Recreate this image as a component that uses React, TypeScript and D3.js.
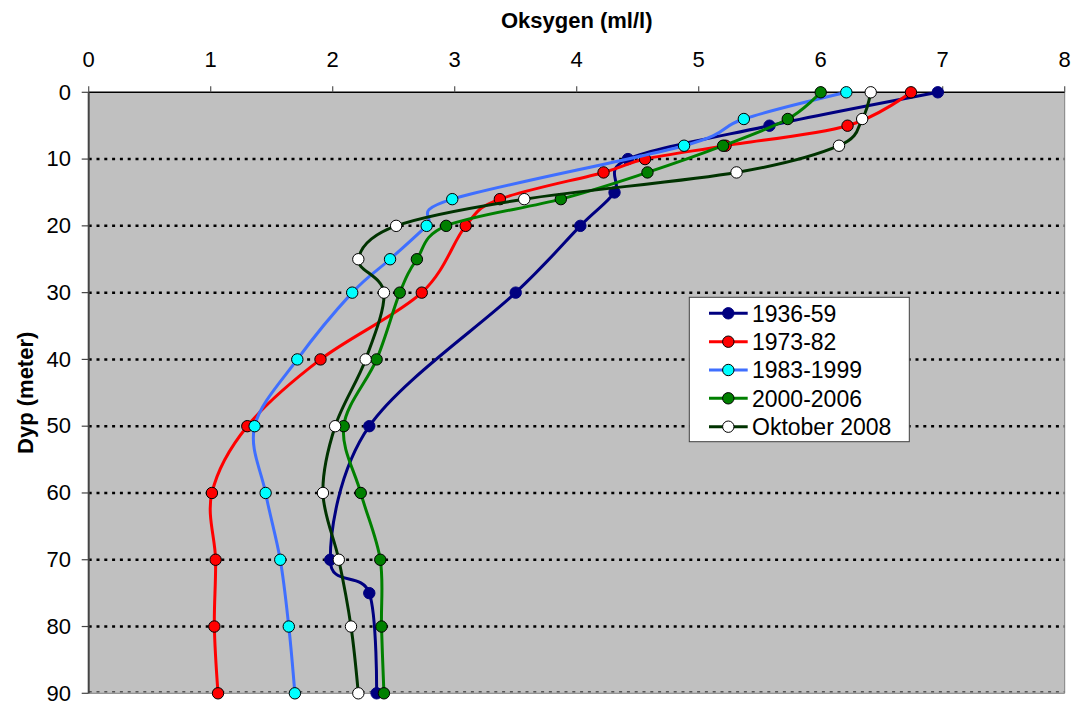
import React from "react";
import * as d3 from "d3";

const xTicks = [0, 1, 2, 3, 4, 5, 6, 7, 8];
const yTicks = [0, 10, 20, 30, 40, 50, 60, 70, 80, 90];

const depth1936 = [0, 5, 10, 15, 20, 30, 50, 70, 75, 90];
const oxy1936 = [6.96, 5.58, 4.42, 4.31, 4.03, 3.5, 2.3, 1.98, 2.3, 2.36];

const depth1973 = [0, 5, 8, 10, 12, 16, 20, 30, 40, 50, 60, 70, 80, 90];
const oxy1973 = [6.74, 6.22, 5.22, 4.56, 4.22, 3.37, 3.09, 2.73, 1.9, 1.3, 1.01, 1.04, 1.03, 1.06];

const depth1983 = [0, 4, 8, 16, 20, 25, 30, 40, 50, 60, 70, 80, 90];
const oxy1983 = [6.21, 5.37, 4.88, 2.98, 2.77, 2.47, 2.16, 1.71, 1.36, 1.45, 1.57, 1.64, 1.69];

const depth2000 = [0, 4, 8, 12, 16, 20, 25, 30, 40, 50, 60, 70, 80, 90];
const oxy2000 = [6.0, 5.73, 5.2, 4.58, 3.87, 2.93, 2.69, 2.55, 2.36, 2.09, 2.23, 2.39, 2.4, 2.42];

const depth2008 = [0, 4, 8, 12, 16, 20, 25, 30, 40, 50, 60, 70, 80, 90];
const oxy2008 = [6.41, 6.34, 6.15, 5.31, 3.57, 2.52, 2.21, 2.42, 2.27, 2.02, 1.92, 2.05, 2.15, 2.21];

const seriesNames = ["1936-59", "1973-82", "1983-1999", "2000-2006", "Oktober 2008"];

const series = [
  { name: seriesNames[0], depth: depth1936, oxy: oxy1936, line: "#000080", fill: "#000080", stroke: "#000080" },
  { name: seriesNames[1], depth: depth1973, oxy: oxy1973, line: "#FF0000", fill: "#FF0000", stroke: "#000000" },
  { name: seriesNames[2], depth: depth1983, oxy: oxy1983, line: "#3F6FFF", fill: "#00FFFF", stroke: "#000000" },
  { name: seriesNames[3], depth: depth2000, oxy: oxy2000, line: "#008000", fill: "#008000", stroke: "#000000" },
  { name: seriesNames[4], depth: depth2008, oxy: oxy2008, line: "#003300", fill: "#FFFFFF", stroke: "#000000" },
];

const W = 1072;
const H = 704;
const L = 88.7;
const R = 1064.7;
const T = 92.3;
const B = 693.3;
const FONT = "'Liberation Sans', Arial, sans-serif";

export default function App() {
  const x = d3.scaleLinear().domain([0, 8]).range([L, R]);
  const y = d3.scaleLinear().domain([0, 90]).range([T, B]);
  const lineGen = d3
    .line<[number, number]>()
    .x((d) => x(d[0]))
    .y((d) => y(d[1]))
    .curve(d3.curveCardinal.tension(0));

  const legX = 689.3;
  const legY = 297.3;
  const legW = 220;
  const legH = 144.4;
  const rowY = [313.3, 341.7, 370, 398.3, 426.7];

  return (
    <svg
      width={W}
      height={H}
      style={{ position: "absolute", left: 0, top: 0, background: "#fff" }}
      fontFamily={FONT}
    >
      <rect x={L} y={T} width={R - L} height={B - T} fill="#C0C0C0" />
      {yTicks.filter((t) => t > 0 && t < 90).map((t) => (
        <line key={t} x1={L} x2={R} y1={y(t)} y2={y(t)} stroke="#000" strokeWidth={2.5} strokeDasharray="3,4.8" />
      ))}
      <line x1={L} x2={R} y1={B} y2={B} stroke="#808080" strokeWidth={1} />
      <line x1={L} x2={R} y1={B - 1.5} y2={B - 1.5} stroke="#555" strokeWidth={1.5} strokeDasharray="3,4.8" />
      <line x1={R} x2={R} y1={T} y2={B} stroke="#808080" strokeWidth={1} />
      {/* top axis */}
      <line x1={L} x2={R} y1={T} y2={T} stroke="#000" strokeWidth={1.5} />
      {xTicks.map((t) => (
        <g key={t}>
          <line x1={x(t)} x2={x(t)} y1={T} y2={T - 6} stroke="#555" strokeWidth={1.2} />
          <text x={x(t)} y={67} textAnchor="middle" fontSize={22} fill="#000">
            {t}
          </text>
        </g>
      ))}
      {/* left axis */}
      <line x1={L} x2={L} y1={T} y2={B} stroke="#444" strokeWidth={2} />
      {yTicks.map((t) => (
        <g key={t}>
          <line x1={L - 7} x2={L} y1={y(t)} y2={y(t)} stroke="#444" strokeWidth={1.2} />
          <text x={71} y={y(t) + 7.3} textAnchor="end" fontSize={22} fill="#000">
            {t}
          </text>
        </g>
      ))}
      <text x={(L + R) / 2} y={28} textAnchor="middle" fontSize={22} fontWeight="bold">
        Oksygen (ml/l)
      </text>
      <text
        transform={`translate(33,${(T + B) / 2}) rotate(-90)`}
        textAnchor="middle"
        fontSize={22}
        fontWeight="bold"
      >
        Dyp (meter)
      </text>
      {series.map((s) => {
        const pts: [number, number][] = s.oxy.map((v, i) => [v, s.depth[i]]);
        return (
          <g key={s.name}>
            <path d={lineGen(pts) || ""} fill="none" stroke={s.line} strokeWidth={3} />
            {pts.map((p, i) => (
              <circle key={i} cx={x(p[0])} cy={y(p[1])} r={5.7} fill={s.fill} stroke={s.stroke} strokeWidth={1} />
            ))}
          </g>
        );
      })}
      <rect x={legX} y={legY} width={legW} height={legH} fill="#fff" stroke="#404040" strokeWidth={1} />
      {series.map((s, i) => (
        <g key={s.name}>
          <line x1={709} x2={747.7} y1={rowY[i]} y2={rowY[i]} stroke={s.line} strokeWidth={3} />
          <circle cx={728.3} cy={rowY[i]} r={5.7} fill={s.fill} stroke={s.stroke} strokeWidth={1} />
          <text x={752} y={rowY[i] + 8.2} fontSize={23} fill="#000">
            {s.name}
          </text>
        </g>
      ))}
    </svg>
  );
}
